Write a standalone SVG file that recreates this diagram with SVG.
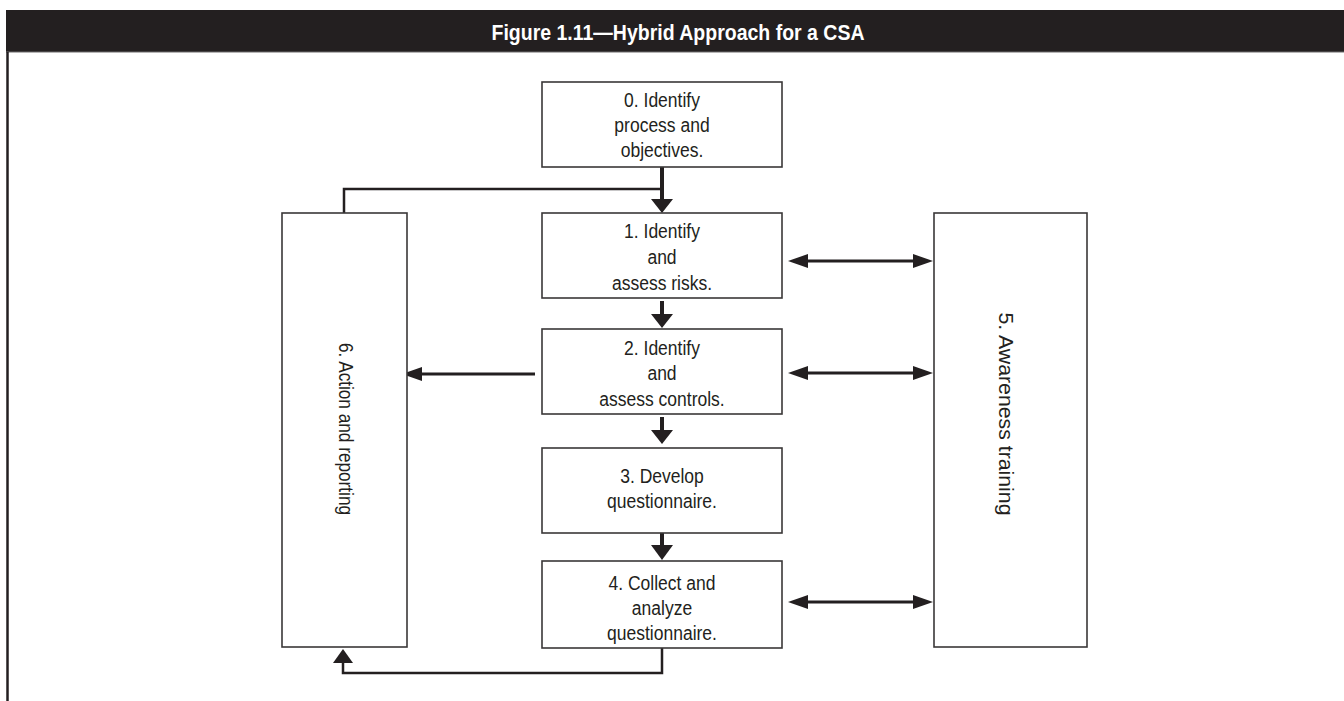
<svg xmlns="http://www.w3.org/2000/svg" width="1344" height="701" viewBox="0 0 1344 701">
<style>
.box{fill:#fff;stroke:#3a3738;stroke-width:1.6}
.t{font-family:"Liberation Sans",Arial,sans-serif;font-size:20px;fill:#231f20;text-anchor:middle}
.rt{font-family:"Liberation Sans",Arial,sans-serif;fill:#231f20;text-anchor:middle}
.ln{fill:none;stroke:#231f20;stroke-linecap:butt;stroke-linejoin:miter}
.hd{fill:#231f20}
</style>
<rect x="0" y="0" width="1344" height="701" fill="#fff"/>
<g id="header">
<rect x="6" y="10" width="1338" height="42" fill="#231f20"/>
<line x1="6" y1="52" x2="1344" y2="52" stroke="#6d6a6b" stroke-width="1"/>
<text x="678" y="40" font-family="'Liberation Sans',Arial,sans-serif" font-weight="bold" font-size="22" fill="#fff" text-anchor="middle" textLength="373" lengthAdjust="spacingAndGlyphs">Figure 1.11—Hybrid Approach for a CSA</text>
</g>
<line x1="7.5" y1="52" x2="7.5" y2="701" stroke="#231f20" stroke-width="2.5"/>
<g id="connectors">
<line class="ln" x1="662" y1="167" x2="662" y2="201" stroke-width="4"/>
<polygon class="hd" points="651,199 673,199 662,213"/>
<polyline class="ln" points="344,213 344,189 662,189" stroke-width="2.5"/>
<line class="ln" x1="662" y1="301" x2="662" y2="316" stroke-width="4"/>
<polygon class="hd" points="651,314 673,314 662,328"/>
<line class="ln" x1="662" y1="417" x2="662" y2="432" stroke-width="4"/>
<polygon class="hd" points="651,430 673,430 662,444"/>
<line class="ln" x1="662" y1="533" x2="662" y2="547" stroke-width="4"/>
<polygon class="hd" points="651,545 673,545 662,560"/>
<polyline class="ln" points="662,648 662,673 343,673 343,661" stroke-width="2.5"/>
<polygon class="hd" points="333,663 353,663 343,649"/>
<line class="ln" x1="535" y1="374" x2="418" y2="374" stroke-width="3"/>
<polygon class="hd" points="402,374 422,367 422,381"/>
<line class="ln" x1="804" y1="261" x2="917" y2="261" stroke-width="3"/>
<polygon class="hd" points="788,261 808,254 808,268"/>
<polygon class="hd" points="933,261 913,254 913,268"/>
<line class="ln" x1="804" y1="373" x2="917" y2="373" stroke-width="3"/>
<polygon class="hd" points="788,373 808,366 808,380"/>
<polygon class="hd" points="933,373 913,366 913,380"/>
<line class="ln" x1="804" y1="602" x2="917" y2="602" stroke-width="3"/>
<polygon class="hd" points="788,602 808,595 808,609"/>
<polygon class="hd" points="933,602 913,595 913,609"/>
</g>
<g id="node0">
<rect class="box" x="542" y="82" width="240" height="85"/>
<g transform="matrix(0.875,0,0,1,662,0)">
<text class="t" x="0" y="107">0. Identify</text>
<text class="t" x="0" y="132">process and</text>
<text class="t" x="0" y="157">objectives.</text>
</g>
</g>
<g id="node1">
<rect class="box" x="542" y="213" width="240" height="85"/>
<g transform="matrix(0.875,0,0,1,662,0)">
<text class="t" x="0" y="238">1. Identify</text>
<text class="t" x="0" y="264">and</text>
<text class="t" x="0" y="290">assess risks.</text>
</g>
</g>
<g id="node2">
<rect class="box" x="542" y="329" width="240" height="85"/>
<g transform="matrix(0.875,0,0,1,662,0)">
<text class="t" x="0" y="355">2. Identify</text>
<text class="t" x="0" y="380">and</text>
<text class="t" x="0" y="406">assess controls.</text>
</g>
</g>
<g id="node3">
<rect class="box" x="542" y="448" width="240" height="85"/>
<g transform="matrix(0.875,0,0,1,662,0)">
<text class="t" x="0" y="483">3. Develop</text>
<text class="t" x="0" y="508">questionnaire.</text>
</g>
</g>
<g id="node4">
<rect class="box" x="542" y="561" width="240" height="87"/>
<g transform="matrix(0.875,0,0,1,662,0)">
<text class="t" x="0" y="590">4. Collect and</text>
<text class="t" x="0" y="615">analyze</text>
<text class="t" x="0" y="640">questionnaire.</text>
</g>
</g>
<g id="node5">
<rect class="box" x="934" y="213" width="153" height="434"/>
<text class="rt" font-size="19.5" transform="translate(999,414) rotate(90)" textLength="203" lengthAdjust="spacingAndGlyphs">5. Awareness training</text>
</g>
<g id="node6">
<rect class="box" x="282" y="213" width="125" height="434"/>
<text class="rt" font-size="19.5" transform="translate(339,429) rotate(90)" textLength="172" lengthAdjust="spacingAndGlyphs">6. Action and reporting</text>
</g>
</svg>
